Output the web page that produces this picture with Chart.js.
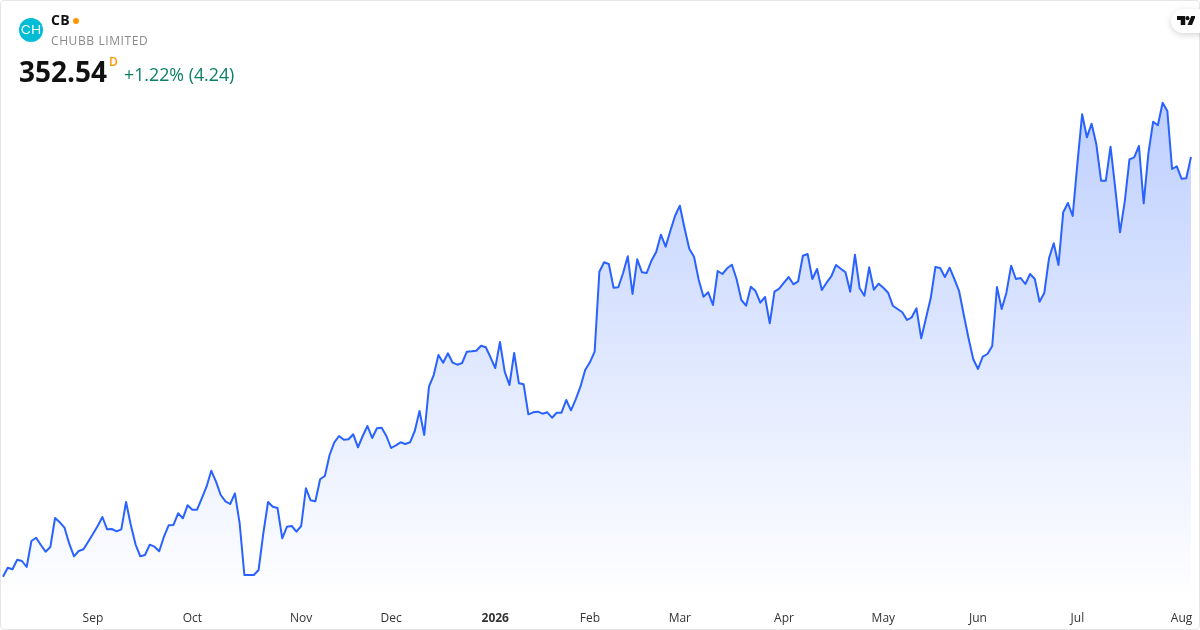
<!DOCTYPE html>
<html>
<head>
<meta charset="utf-8">
<title>CB</title>
<script src="https://cdn.jsdelivr.net/npm/chart.js@4"></script>
<style>
    html, body { margin: 0; padding: 0; background: #fff; }
    body { width: 1200px; height: 630px; overflow: hidden; position: relative; font-family: "Open Sans", sans-serif; }
    #frame { position: absolute; left: 0; top: 0; width: 1198px; height: 628px; border: 1px solid #e6e6e6; border-radius: 4px; }
    #chart { position: absolute; left: 0; top: 0; }
    .t { position: absolute; white-space: nowrap; line-height: 1; }
    #logo { position: absolute; left: 19px; top: 18px; width: 24px; height: 24px; border-radius: 50%; background: #00bcd4; }
    #logo span { position: absolute; left: 0; top: 0; width: 24px; color: #fff; font-family: "Inter", sans-serif; font-weight: 400; font-size: 11.5px; line-height: 25px; text-align: center; transform: scaleX(1.2); }
    #dot { position: absolute; left: 73px; top: 18px; width: 6px; height: 6px; border-radius: 50%; background: #ff9800; }
    #tv { position: absolute; left: 1171px; top: 9px; width: 40px; height: 24px; border-radius: 12px; background: #fff; box-shadow: 0 2px 6px rgba(0,0,0,0.16); }
    #tv svg { position: absolute; left: 6px; top: 7px; }
</style>
</head>
<body>
<canvas id="chart" width="1200" height="630"></canvas>
<div id="frame"></div>
<div id="logo"><span>CH</span></div>
<div class="t" id="ticker" style="left:51px;top:13px;font-size:14px;font-weight:700;color:#111;letter-spacing:0.4px;">CB</div>
<div id="dot"></div>
<div class="t" id="name" style="left:51px;top:35px;font-size:12px;color:#8a8a8a;letter-spacing:0.6px;">CHUBB LIMITED</div>
<div class="t" id="price" style="left:19px;top:57px;font-size:28px;font-weight:700;color:#111;">352.54</div>
<div class="t" id="interval" style="left:109px;top:56px;font-size:12px;font-weight:600;color:#ff9800;">D</div>
<div class="t" id="change" style="left:124px;top:66px;font-size:17.8px;color:#0b8068;">+1.22% (4.24)</div>
<div id="tv"><svg width="18" height="9" viewBox="0 0 24 11" preserveAspectRatio="none"><path d="M0 0H11V11H5V5H0Z M14 11L19 0H25L20 11Z" fill="#111"/><circle cx="14" cy="2.6" r="2.6" fill="#111"/></svg></div>
<script>
// daily closes
const prices = [
    268.60, 270.40, 270.08, 272.00, 271.74, 270.54, 275.74, 276.40, 274.94, 273.60,
    274.54, 280.34, 279.48, 278.40, 275.20, 272.68, 273.74, 274.08, 275.60, 277.14,
    278.74, 280.54, 278.08, 278.14, 277.68, 278.08, 283.54, 278.94, 275.08, 272.68,
    272.94, 275.00, 274.60, 273.68, 276.60, 278.88, 278.94, 281.28, 280.28, 282.88,
    282.00, 282.00, 284.28, 286.60, 289.80, 287.60, 284.94, 283.68, 283.14, 285.28,
    279.28, 268.94, 268.94, 268.94, 269.94, 277.28, 283.54, 282.60, 282.34, 276.28,
    278.60, 278.74, 277.60, 278.74, 286.28, 283.88, 283.68, 288.08, 288.74, 292.94,
    295.48, 296.74, 296.00, 296.08, 297.08, 294.48, 296.74, 298.74, 296.34, 298.28,
    298.40, 296.74, 294.34, 294.88, 295.48, 295.14, 295.48, 297.74, 301.74, 296.94,
    306.60, 308.94, 312.94, 311.40, 313.28, 311.40, 311.00, 311.34, 313.60, 313.68,
    313.80, 314.80, 314.48, 312.48, 310.34, 315.54, 309.60, 306.94, 313.34, 307.28,
    307.08, 301.08, 301.48, 301.60, 301.20, 301.48, 300.40, 301.40, 301.40, 303.94,
    301.88, 304.08, 306.60, 309.94, 311.48, 313.60, 329.60, 331.48, 331.14, 326.40,
    326.48, 329.28, 332.68, 325.14, 332.08, 329.48, 329.34, 331.80, 333.54, 337.00,
    334.60, 337.80, 340.80, 342.80, 338.28, 334.20, 332.60, 327.94, 324.60, 325.48,
    322.94, 329.74, 329.14, 330.28, 331.00, 328.08, 323.94, 322.80, 326.60, 325.74,
    323.40, 324.54, 319.28, 325.60, 326.20, 327.40, 328.54, 327.08, 327.68, 332.80,
    333.14, 328.14, 330.14, 325.94, 327.40, 328.68, 330.94, 330.20, 329.48, 325.60,
    333.00, 326.28, 324.80, 330.48, 326.00, 327.20, 326.40, 325.40, 322.80, 322.14,
    321.48, 319.94, 320.48, 322.28, 316.28, 320.28, 324.28, 330.54, 330.34, 328.54,
    330.40, 328.14, 325.74, 320.94, 316.28, 312.08, 310.14, 312.60, 313.14, 314.74,
    326.54, 322.14, 325.40, 330.80, 328.14, 328.34, 327.14, 329.14, 328.14, 323.60,
    325.34, 332.28, 335.28, 330.94, 341.48, 343.34, 340.74, 351.28, 361.08, 356.48,
    359.20, 355.08, 347.80, 347.80, 354.60, 346.28, 337.48, 343.60, 352.08, 352.48,
    354.74, 343.28, 353.28, 359.60, 358.88, 363.40, 361.74, 350.14, 350.68, 348.20,
    348.30, 352.54
];
const tickLabels = ['Sep', 'Oct', 'Nov', 'Dec', '2026', 'Feb', 'Mar', 'Apr', 'May', 'Jun', 'Jul', 'Aug'];
const tickIndex = [19, 40, 63, 82, 104, 124, 143, 165, 186, 206, 227, 249];

let labels = prices.map(() => '');
tickIndex.forEach((idx, i) => { labels[idx] = tickLabels[i]; });

const ctx = document.getElementById('chart').getContext('2d');
new Chart(ctx, {
    type: 'line',
    data: {
        labels: labels,
        datasets: [{
            data: prices,
            borderColor: '#2962ff',
            borderWidth: 2,
            borderJoinStyle: 'round',
            pointRadius: 0,
            tension: 0,
            fill: 'start',
            backgroundColor: (c) => {
                const area = c.chart.chartArea;
                if (!area) return 'transparent';
                const g = c.chart.ctx.createLinearGradient(0, 100, 0, 600);
                g.addColorStop(0, 'rgba(41,98,255,0.3)');
                g.addColorStop(1, 'rgba(41,98,255,0.0)');
                return g;
            }
        }]
    },
    options: {
        responsive: false,
        animation: false,
        devicePixelRatio: 1,
        layout: { padding: { left: 3, right: 9, top: 0, bottom: 0 } },
        plugins: { legend: { display: false }, tooltip: { enabled: false }, title: { display: false } },
        scales: {
            x: {
                grid: { display: false },
                border: { display: false },
                afterFit: (scale) => {
                    scale.height = 30;
                    scale.paddingLeft = 0;
                    scale.paddingRight = 0;
                },
                ticks: {
                    autoSkip: false,
                    maxRotation: 0,
                    padding: 3,
                    color: '#333',
                    font: (c) => ({
                        family: '"Open Sans", sans-serif',
                        size: 12,
                        weight: c.tick && c.tick.label === '2026' ? '700' : '400'
                    }),
                    callback: function (value) {
                        return this.getLabelForValue(value) || null;
                    }
                }
            },
            y: { display: false, min: 263.94, max: 383.94 }
        }
    }
});
</script>
</body>
</html>
